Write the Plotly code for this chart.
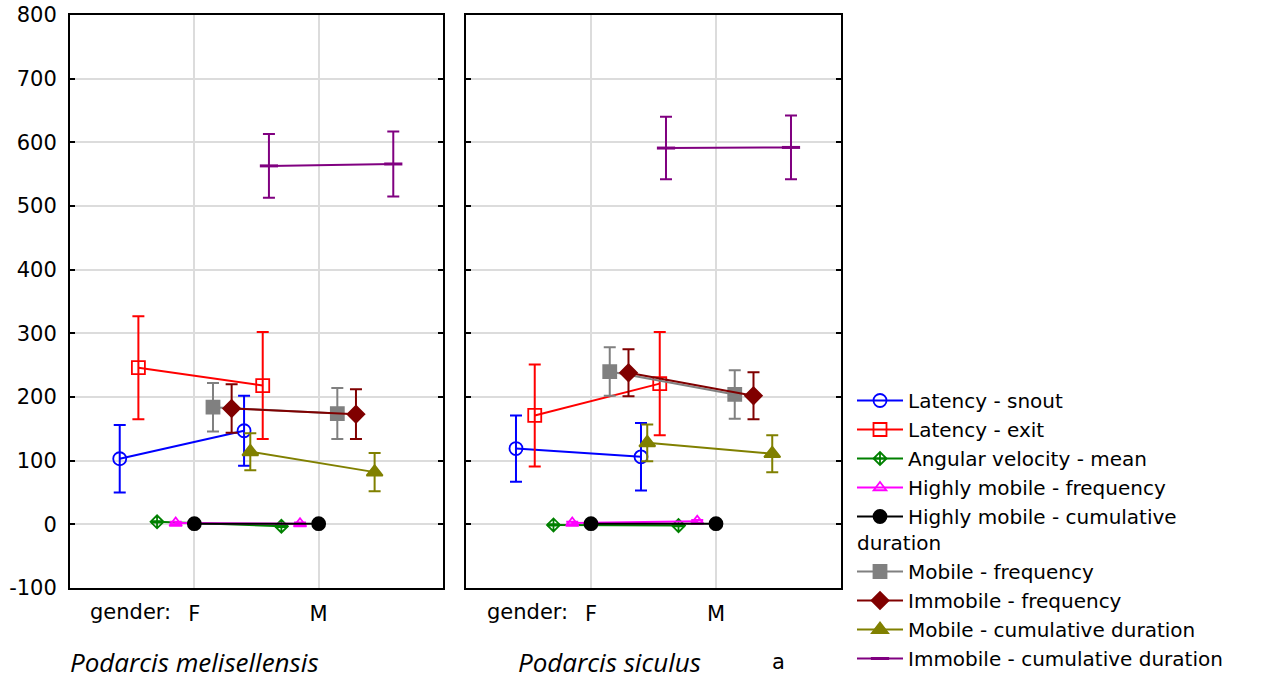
import plotly.graph_objects as go

genders = ["F", "M"]
panels = ["Podarcis melisellensis", "Podarcis siculus"]
series = [
    "Latency - snout",
    "Latency - exit",
    "Angular velocity - mean",
    "Highly mobile - frequency",
    "Highly mobile - cumulative duration",
    "Mobile - frequency",
    "Immobile - frequency",
    "Mobile - cumulative duration",
    "Immobile - cumulative duration",
]
y_ticks = [-100, 0, 100, 200, 300, 400, 500, 600, 700, 800]
y_ticktext = ["-100", "0", "100", "200", "300", "400", "500", "600", "700", "800"]

# means [F, M] per series, left panel (P. melisellensis)
mel_mean = [
    [103, 147],
    [246, 218],
    [4, -3],
    [2, 1],
    [1, 1],
    [184, 174],
    [182, 173],
    [114, 82],
    [563, 566],
]
mel_err = [
    [53, 55],
    [81, 84],
    [1, 1],
    [2, 2],
    [1, 1],
    [38, 40],
    [38, 39],
    [29, 30],
    [50, 51],
]
# right panel (P. siculus)
sic_mean = [
    [119, 106],
    [171, 221],
    [-1, -2],
    [2, 5],
    [1, 1],
    [240, 204],
    [238, 202],
    [128, 111],
    [591, 592],
]
sic_err = [
    [52, 53],
    [80, 81],
    [1, 1],
    [2, 2],
    [1, 1],
    [38, 38],
    [37, 37],
    [29, 29],
    [49, 50],
]

colors = ["#0000FF", "#FF0000", "#008000", "#FF00FF", "#000000",
          "#808080", "#800000", "#808000", "#800080"]
symbols = ["circle-open", "square-open", "diamond-cross-open", "triangle-up-open",
           "circle", "square", "diamond", "triangle-up", "line-ew"]
sizes = [13, 13, 10, 11, 13, 13, 13, 14, 13]

FONT = "DejaVu Sans, Liberation Sans, Arial, sans-serif"
IFONT = "Open Sans, Lato, sans-serif"

fig = go.Figure()
for p, (means, errs) in enumerate([(mel_mean, mel_err), (sic_mean, sic_err)]):
    xa = "x" if p == 0 else "x2"
    ya = "y" if p == 0 else "y2"
    for i, name in enumerate(series):
        off = 0.15 * (i - 4)
        xs = [g + off for g in range(len(genders))]
        label = name
        if i == 4:
            label = "Highly mobile - cumulative"
        fig.add_trace(go.Scatter(
            x=xs, y=means[i],
            error_y=dict(type="data", array=errs[i], visible=True,
                         color=colors[i], thickness=2, width=6),
            mode="lines+markers",
            line=dict(color=colors[i], width=2),
            marker=dict(symbol=symbols[i], size=sizes[i], color=colors[i],
                        line=dict(color=colors[i], width=1.8 if i != 8 else 3)),
            name=label, legendgroup=name, showlegend=(p == 0),
            legend="legend" if i <= 4 else "legend2",
            xaxis=xa, yaxis=ya,
        ))

axis_common = dict(
    showline=True, linecolor="black", linewidth=2, mirror="ticks",
    showgrid=True, gridcolor="#dcdcdc", gridwidth=2, zeroline=False,
    ticks="inside", ticklen=5, tickcolor="black", tickwidth=2,
    automargin=False,
)
xcommon = dict(axis_common, range=[-1, 2], tickvals=[0, 1], ticktext=genders,
               tickfont=dict(family=FONT, size=21, color="black"),
               ticks="", ticklabelstandoff=6)
legend_common = dict(xanchor="left", yanchor="top",
                     font=dict(family=FONT, size=20, color="black"),
                     bgcolor="rgba(0,0,0,0)", itemwidth=46, tracegroupgap=0)
fig.update_layout(
    width=1263, height=680,
    margin=dict(l=70, r=422, t=15, b=92, autoexpand=False),
    plot_bgcolor="white", paper_bgcolor="white",
    font=dict(family=FONT, size=21, color="black"),
    xaxis=dict(xcommon, domain=[0, 0.4838]),
    xaxis2=dict(xcommon, domain=[0.5136, 1]),
    yaxis=dict(axis_common, range=[-100, 800], tickvals=y_ticks, ticktext=y_ticktext,
               tickfont=dict(family=FONT, size=21, color="black"),
               ticklabelstandoff=7),
    yaxis2=dict(axis_common, range=[-100, 800], tickvals=y_ticks, anchor="x2",
                showticklabels=False),
    legend=dict(legend_common, x=(852 - 70) / 771, y=(588 - 381) / 573),
    legend2=dict(legend_common, x=(852 - 70) / 771, y=(588 - 552) / 573),
    showlegend=True,
)

annotations = [
    dict(text="gender:", xref="x", yref="paper", x=-0.17, y=-(612 - 588) / 573,
         xanchor="right", yanchor="middle", showarrow=False,
         font=dict(family=FONT, size=21)),
    dict(text="gender:", xref="x2", yref="paper", x=-0.17, y=-(612 - 588) / 573,
         xanchor="right", yanchor="middle", showarrow=False,
         font=dict(family=FONT, size=21)),
    dict(text="<i>" + panels[0] + "</i>", xref="x", yref="paper", x=0.0,
         y=-(662 - 588) / 573, xanchor="center", yanchor="middle", showarrow=False,
         font=dict(family=IFONT, size=26)),
    dict(text="<i>" + panels[1] + "</i>", xref="x2", yref="paper", x=0.15,
         y=-(662 - 588) / 573, xanchor="center", yanchor="middle", showarrow=False,
         font=dict(family=IFONT, size=26)),
    dict(text="a", xref="paper", yref="paper", x=(778 - 70) / 771,
         y=-(662 - 588) / 573, xanchor="center", yanchor="middle", showarrow=False,
         font=dict(family=FONT, size=21)),
    dict(text="duration", xref="paper", yref="paper", x=(855 - 70) / 771,
         y=(588 - 543) / 573, xanchor="left", yanchor="middle", showarrow=False,
         font=dict(family=FONT, size=20)),
]
fig.update_layout(annotations=annotations)

fig.write_html("out.html",
               config={"displayModeBar": False},
               post_script="document.body.style.margin='0';document.body.style.overflow='hidden';")
